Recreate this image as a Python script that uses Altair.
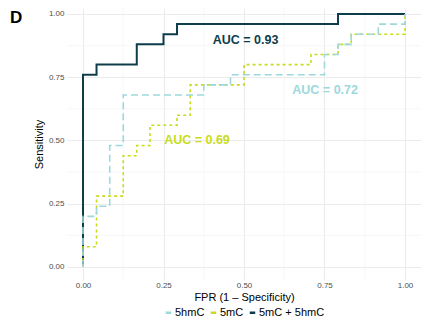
import altair as alt
import pandas as pd

# ROC staircase vertices (FPR, sensitivity)
series_names = ["5hmC", "5mC", "5mC + 5hmC"]
series_colors = ["#9dd9dc", "#c8dc1c", "#0d3d4a"]

hmc_fpr = [0, 0, 0.042, 0.083, 0.125, 0.375, 0.458, 0.75, 0.792, 0.833, 0.917, 1.0]
hmc_tpr = [0, 0.20, 0.24, 0.48, 0.68, 0.72, 0.76, 0.84, 0.88, 0.92, 0.96, 1.0]

mc_fpr = [0, 0, 0.042, 0.125, 0.167, 0.208, 0.292, 0.333, 0.5, 0.708, 0.792, 0.833, 1.0]
mc_tpr = [0, 0.08, 0.28, 0.44, 0.48, 0.56, 0.60, 0.72, 0.80, 0.84, 0.88, 0.92, 1.0]

combo_fpr = [0, 0, 0.042, 0.167, 0.25, 0.292, 0.792, 1.0]
combo_tpr = [0, 0.76, 0.80, 0.88, 0.92, 0.96, 1.0, 1.0]

auc_text = ["AUC = 0.72", "AUC = 0.69", "AUC = 0.93"]
auc_x = [0.752, 0.354, 0.505]
auc_y = [0.70, 0.50, 0.897]

major_ticks = [0, 0.25, 0.5, 0.75, 1.0]
minor_ticks = [0.125, 0.375, 0.625, 0.875]

rows = []
for name, fx, fy in [("5hmC", hmc_fpr, hmc_tpr), ("5mC", mc_fpr, mc_tpr),
                     ("5mC + 5hmC", combo_fpr, combo_tpr)]:
    for i, (a, b) in enumerate(zip(fx, fy)):
        rows.append({"series": name, "fpr": a, "tpr": b, "i": i})
df = pd.DataFrame(rows)
lab = pd.DataFrame({"series": series_names, "text": auc_text, "x": auc_x, "y": auc_y})

FONT = "Liberation Sans"
xs = alt.Scale(domain=[-0.0497, 1.0497], nice=False, zero=False)
ys = alt.Scale(domain=[-0.0514, 1.0237], nice=False, zero=False)
cs = alt.Scale(domain=series_names, range=series_colors)
dashes = {"5hmC": [7, 4], "5mC": [3, 3], "5mC + 5hmC": [1, 0]}

minor_x = alt.Chart(pd.DataFrame({"v": minor_ticks})).mark_rule(
    color="#f2f2f2", strokeWidth=0.6).encode(x=alt.X("v:Q", scale=xs))
minor_y = alt.Chart(pd.DataFrame({"v": minor_ticks})).mark_rule(
    color="#f2f2f2", strokeWidth=0.6).encode(y=alt.Y("v:Q", scale=ys))

def line_layer(name):
    return alt.Chart(df).transform_filter(alt.datum.series == name).mark_line(
        interpolate="step-after", strokeWidth=2 if name == "5mC + 5hmC" else 1.6,
        strokeDash=dashes[name],
    ).encode(
        x=alt.X("fpr:Q", scale=xs, title="FPR (1 \u2013 Specificity)",
                axis=alt.Axis(values=major_ticks, format=".2f")),
        y=alt.Y("tpr:Q", scale=ys, title="Sensitivity",
                axis=alt.Axis(values=major_ticks, format=".2f")),
        color=alt.Color("series:N", scale=cs,
                        legend=alt.Legend(title=None, orient="none",
                                          legendX=96, legendY=299)),
        order=alt.Order("i:Q"),
    )

texts = alt.Chart(lab).mark_text(font=FONT, fontSize=12.5, fontWeight="bold").encode(
    x=alt.X("x:Q", scale=xs), y=alt.Y("y:Q", scale=ys),
    text="text:N",
    color=alt.Color("series:N", scale=cs, legend=None),
)

panel_tag = alt.Chart(pd.DataFrame({"t": ["D"]})).mark_text(
    font=FONT, fontSize=17, fontWeight="bold", align="left", baseline="alphabetic",
    color="#000000").encode(x=alt.value(-57), y=alt.value(15), text="t:N")

chart = alt.layer(
    minor_x, minor_y,
    line_layer("5mC + 5hmC"), line_layer("5mC"), line_layer("5hmC"),
    texts, panel_tag,
).properties(
    width=354, height=272,
    autosize=alt.AutoSizeParams(type="none"),
    padding={"left": 59, "right": 0, "top": 0, "bottom": 43},
).configure_view(stroke=None).configure_axis(
    domain=False, ticks=False, grid=True, gridColor="#ebebeb", gridWidth=1,
    labelFont=FONT, labelFontSize=8, labelColor="#4d4d4d", labelPadding=3,
    titleFont=FONT, titleFontSize=11, titleFontWeight="normal", titleColor="#000000",
).configure_axisX(titlePadding=2, labelPadding=1).configure_axisY(titlePadding=4).configure_legend(
    direction="horizontal", labelFont=FONT, labelFontSize=11,
    labelColor="#000000", symbolType="stroke", symbolStrokeWidth=2.5, symbolSize=30,
    columnPadding=0, labelOffset=1, padding=0,
)

chart.save("out.html", embed_options={"renderer": "svg", "actions": False})
